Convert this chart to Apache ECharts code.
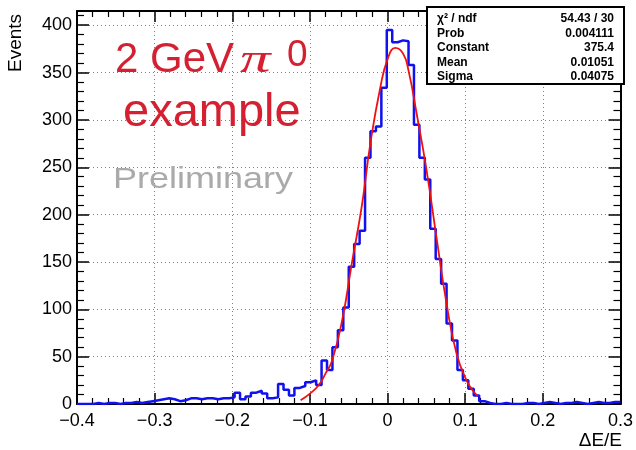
<!DOCTYPE html>
<html><head><meta charset="utf-8">
<script src="https://cdn.jsdelivr.net/npm/echarts@6/dist/echarts.min.js"></script>
<style>html,body{margin:0;padding:0;background:#fff}#c{width:636px;height:450px}</style>
</head><body><div id="c"></div>
<script>
// Histogram binning (100 bins from -0.4 to 0.3)
const binStart = -0.4;
const binWidth = 0.007;
const counts = [
  0, 0, 0, 1, 0, 1, 1, 0, 1, 1,
  2, 1, 2, 3, 4, 5, 6, 5, 3, 4,
  6, 6, 5, 6, 6, 5, 6, 6, 7, 12,
  5, 8, 12, 14, 11, 6, 7, 21, 15, 9,
  17, 19, 23, 25, 20, 46, 36, 60, 78, 102,
  145, 169, 183, 260, 288, 293, 334, 395, 382, 384,
  383, 358, 295, 260, 237, 185, 153, 127, 85, 67,
  36, 25, 16, 9, 3, 1, 0, 0, 1, 0,
  0, 0, 1, 1, 0, 1, 2, 1, 0, 1,
  1, 2, 1, 0, 1, 2, 1, 1, 2, 2
];
// Fit curve points
const fitX = [-0.112, -0.1, -0.0885, -0.08, -0.0714, -0.0586, -0.0457, -0.033, -0.022, -0.0094, 0.0004, 0.0099, 0.02, 0.027, 0.0376, 0.0504, 0.063, 0.076, 0.0889, 0.1017, 0.11, 0.1167];
const fitY = [4, 11, 20, 32, 46, 88, 150, 210, 276, 334, 365, 376, 370, 352, 306, 246, 176, 106, 53, 25, 14, 8];
// Stats box
const statLabels = ['χ² / ndf', 'Prob', 'Constant', 'Mean', 'Sigma'];
const statValues = ['54.43 / 30', '0.004111', '375.4', '0.01051', '0.04075'];
// Axis settings
const xMin = -0.4, xMax = 0.3, xStep = 0.1;
const yMin = 0, yMax = 415, yStep = 50;

const histData = counts.map((c, i) => [Math.round((binStart + i * binWidth) * 1e9) / 1e9, c]);
histData.push([Math.round((binStart + counts.length * binWidth) * 1e9) / 1e9, counts[counts.length - 1]]);
const fitData = fitX.map((x, i) => [x, fitY[i]]);

const FONT = "'Liberation Sans', Arial, Helvetica, sans-serif";
const fmtX = v => Math.abs(v) < 1e-9 ? '0' : v.toFixed(1).replace('-', '\u2212');

function axisCommon(extra) {
  return Object.assign({
    type: 'value',
    axisLine: { show: true, onZero: false, lineStyle: { color: '#000', width: 2 } },
    axisTick: { show: true, inside: true, length: 11, lineStyle: { color: '#000', width: 1.5 } },
    minorTick: { show: true, splitNumber: 5, length: 6, lineStyle: { color: '#000', width: 1.2 } },
    splitLine: { show: false },
    axisLabel: { show: false }
  }, extra);
}

const chart = echarts.init(document.getElementById('c'), null, { renderer: 'canvas' });
const statGraphics = [];
statLabels.forEach((t, i) => {
  const y = 18.8 + i * 14.5;
  statGraphics.push({ type: 'text', x: 437, y: y, z: 101, style: { text: t, font: 'bold 12px ' + FONT, fill: '#000', align: 'left', verticalAlign: 'middle' } });
  statGraphics.push({ type: 'text', x: 614, y: y, z: 101, style: { text: statValues[i], font: 'bold 12px ' + FONT, fill: '#000', align: 'right', verticalAlign: 'middle' } });
});

chart.setOption({
  animation: false,
  backgroundColor: '#fff',
  grid: { left: 77, right: 13, top: 11, bottom: 46, containLabel: false },
  xAxis: [
    axisCommon({
      min: xMin, max: xMax, interval: xStep, position: 'bottom',
      splitLine: { show: true, lineStyle: { color: '#808080', type: [1, 3], width: 1 } },
      axisLabel: { show: true, formatter: fmtX, fontSize: 18, fontFamily: FONT, color: '#000', margin: 8 }
    }),
    axisCommon({ min: xMin, max: xMax, interval: xStep, position: 'top' })
  ],
  yAxis: [
    axisCommon({
      min: yMin, max: yMax, interval: yStep, position: 'left',
      axisTick: { show: true, inside: true, length: 12, lineStyle: { color: '#000', width: 1.5 } },
      minorTick: { show: true, splitNumber: 5, length: 7, lineStyle: { color: '#000', width: 1.2 } },
      splitLine: { show: true, lineStyle: { color: '#808080', type: [1, 3], width: 1 } },
      axisLabel: { show: true, showMaxLabel: false, fontSize: 18, fontFamily: FONT, color: '#000', margin: 5,
        formatter: v => (v % 50 === 0 ? String(v) : '') }
    }),
    axisCommon({
      min: yMin, max: yMax, interval: yStep, position: 'right',
      axisTick: { show: true, inside: true, length: 12, lineStyle: { color: '#000', width: 1.5 } },
      minorTick: { show: true, splitNumber: 5, length: 7, lineStyle: { color: '#000', width: 1.2 } }
    })
  ],
  series: [
    { type: 'line', name: 'hist', xAxisIndex: 0, yAxisIndex: 0, step: 'end', symbol: 'none',
      lineStyle: { color: '#1010f0', width: 2.5 }, data: histData, z: 5 },
    { type: 'line', name: 'fit', xAxisIndex: 0, yAxisIndex: 0, smooth: true, symbol: 'none',
      lineStyle: { color: '#f01010', width: 1.8 }, data: fitData, z: 6 }
  ],
  graphic: [
    { type: 'text', x: 25, y: 72, rotation: Math.PI / 2, style: { text: 'Events', font: '19px ' + FONT, fill: '#000', align: 'left', verticalAlign: 'bottom' } },
    { type: 'text', x: 622, y: 441, style: { text: 'ΔE/E', font: '19px ' + FONT, fill: '#000', align: 'right', verticalAlign: 'middle' } },
    { type: 'text', x: 115, y: 60, z: 50, style: { text: '2 GeV', font: '42px ' + FONT, fill: '#d42030', align: 'left', verticalAlign: 'middle' } },
    { type: 'text', x: 240, y: 61, z: 50, scaleX: 1.45, style: { text: 'π', font: 'italic 42px "Liberation Serif", serif', fill: '#d42030', align: 'left', verticalAlign: 'middle' } },
    { type: 'text', x: 287, y: 56, z: 50, style: { text: '0', font: '37px ' + FONT, fill: '#d42030', align: 'left', verticalAlign: 'middle' } },
    { type: 'text', x: 123, y: 113.5, z: 50, style: { text: 'example', font: '47px ' + FONT, fill: '#d42030', align: 'left', verticalAlign: 'middle' } },
    { type: 'text', x: 113, y: 180, z: 50, scaleX: 1.2, style: { text: 'Preliminary', font: '30px ' + FONT, fill: '#aaaaaa', align: 'left', verticalAlign: 'middle' } },
    { type: 'rect', z: 100, shape: { x: 427, y: 7, width: 197, height: 77 }, style: { fill: '#fff', stroke: '#000', lineWidth: 2 } }
  ].concat(statGraphics)
});
</script>
</body></html>
